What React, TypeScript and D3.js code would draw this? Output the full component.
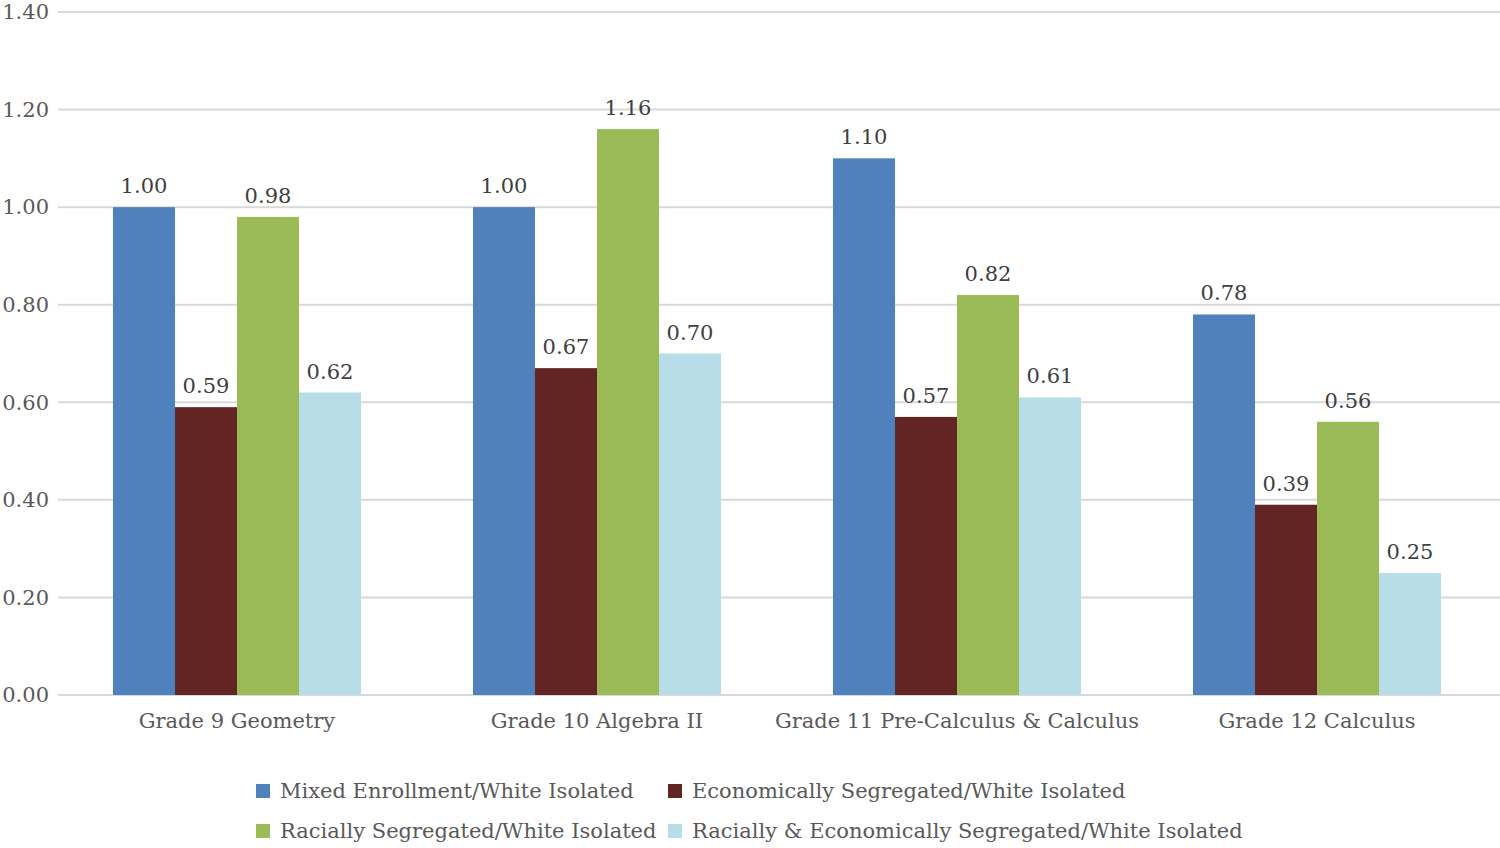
import React from "react";
import * as d3 from "d3";

const categories = ["Grade 9 Geometry", "Grade 10 Algebra II", "Grade 11 Pre-Calculus & Calculus", "Grade 12 Calculus"];
const seriesNames = [
  "Mixed Enrollment/White Isolated",
  "Economically Segregated/White Isolated",
  "Racially Segregated/White Isolated",
  "Racially & Economically Segregated/White Isolated",
];
const mixed = [1.0, 1.0, 1.1, 0.78];
const econ = [0.59, 0.67, 0.57, 0.39];
const racial = [0.98, 1.16, 0.82, 0.56];
const racialEcon = [0.62, 0.7, 0.61, 0.25];
const yTicks = [0, 0.2, 0.4, 0.6, 0.8, 1.0, 1.2, 1.4];
const colors = ["#4f81bd", "#632523", "#9bbb59", "#b7dee8"];

const W = 1500;
const H = 848;
const FONT = "DejaVu Serif";
const ts = { fontFamily: FONT };

export default function App() {
  const series = [mixed, econ, racial, racialEcon];
  const x0 = d3.scaleBand<string>().domain(categories).range([57, 1497]).paddingInner(0).paddingOuter(0);
  const groupW = 248;
  const x1 = d3
    .scaleBand<number>()
    .domain(d3.range(series.length))
    .range([0, groupW])
    .padding(0);
  const y = d3.scaleLinear().domain([0, 1.4]).range([695, 12]);
  const gridLeft = 58;
  const gridRight = 1500;

  return (
    <div style={{ position: "absolute", left: 0, top: 0 }}>
      <svg width={W} height={H} style={{ display: "block", background: "#fff" }}>
        {yTicks.map((t) => (
          <g key={t}>
            <line x1={gridLeft} x2={gridRight} y1={y(t)} y2={y(t)} stroke="#d9d9d9" strokeWidth={2} />
            <text x={49} y={y(t)} dy="0.35em" textAnchor="end" fontSize={21} fill="#595959" style={ts}>
              {t.toFixed(2)}
            </text>
          </g>
        ))}
        {categories.map((c, ci) => {
          const gx = (x0(c) as number) + (x0.bandwidth() - groupW) / 2;
          return (
            <g key={c}>
              {series.map((s, si) => {
                const bx = gx + (x1(si) as number);
                const by = y(s[ci]);
                return (
                  <g key={si}>
                    <rect x={bx} y={by} width={x1.bandwidth()} height={y(0) - by} fill={colors[si]} />
                    <text
                      x={bx + x1.bandwidth() / 2}
                      y={by - 14}
                      textAnchor="middle"
                      fontSize={21}
                      fill="#404040"
                      style={ts}
                    >
                      {s[ci].toFixed(2)}
                    </text>
                  </g>
                );
              })}
              <text
                x={(x0(c) as number) + x0.bandwidth() / 2}
                y={728}
                textAnchor="middle"
                fontSize={21}
                fill="#595959"
                style={ts}
              >
                {c}
              </text>
            </g>
          );
        })}
        {seriesNames.map((n, i) => {
          const col = i % 2;
          const row = Math.floor(i / 2);
          const lx = col === 0 ? 256 : 668;
          const ly = row === 0 ? 791 : 831;
          return (
            <g key={n}>
              <rect x={lx} y={ly - 7} width={14} height={14} fill={colors[i]} />
              <text x={lx + 24} y={ly} dy="0.35em" fontSize={21} fill="#595959" style={ts}>
                {n}
              </text>
            </g>
          );
        })}
      </svg>
    </div>
  );
}
